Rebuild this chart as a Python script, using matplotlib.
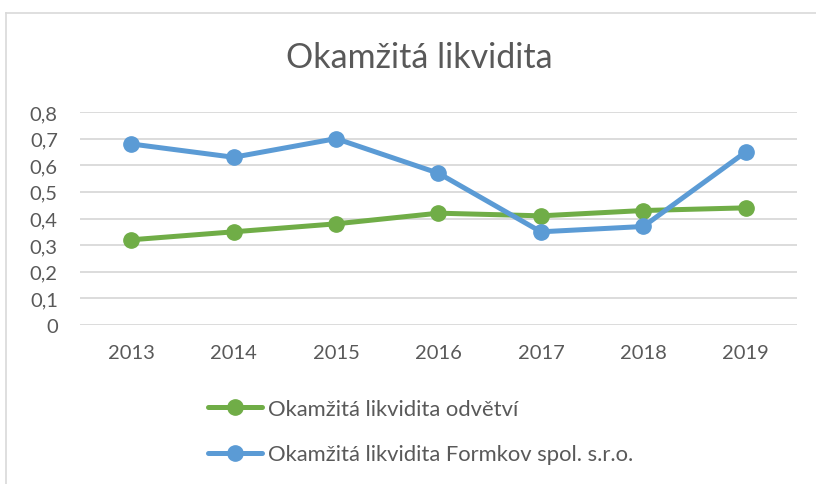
import matplotlib
matplotlib.use("Agg")
from matplotlib import pyplot as plt
from matplotlib.lines import Line2D
from matplotlib.ticker import FuncFormatter

years = ["2013", "2014", "2015", "2016", "2017", "2018", "2019"]
odvetvi = [0.32, 0.35, 0.38, 0.42, 0.41, 0.43, 0.44]
formkov = [0.68, 0.63, 0.70, 0.57, 0.35, 0.37, 0.65]
y_ticks = [0, 0.1, 0.2, 0.3, 0.4, 0.5, 0.6, 0.7, 0.8]

plt.rcParams['font.family'] = ['Lato', 'DejaVu Sans']
text_col = "#595959"
green = "#70AD47"
blue = "#5B9BD5"

fig = plt.figure(figsize=(8.16, 4.85), dpi=100)
ax = fig.add_axes([80/816, 1-326/485, (797-80)/816, (326-113)/485])

x = list(range(len(years)))
ax.plot(x, odvetvi, color=green, lw=3.6, marker='o', ms=11, label="Okamžitá likvidita odvětví",
        solid_capstyle='round', zorder=3)
ax.plot(x, formkov, color=blue, lw=3.6, marker='o', ms=11, label="Okamžitá likvidita Formkov spol. s.r.o.",
        solid_capstyle='round', zorder=4)

ax.set_xlim(-0.5, len(years) - 0.5)
ax.set_ylim(0, 0.8)
ax.set_xticks(x)
ax.set_xticklabels(years)
ax.set_yticks(y_ticks)
ax.yaxis.set_major_formatter(FuncFormatter(lambda v, p: "0" if v == 0 else f"{v:.1f}".replace(".", ",")))
ax.grid(axis='y', color="#D9D9D9", lw=1.3, zorder=0)
for s in ax.spines.values():
    s.set_visible(False)
ax.tick_params(axis='both', length=0, labelsize=14.5, labelcolor=text_col)
ax.tick_params(axis='y', pad=16)
ax.tick_params(axis='x', pad=14)

fig.text(419/816, 1-58/485, "Okamžitá likvidita", ha='center', va='center',
         fontsize=24.5, color=text_col)

fig.legend(loc='upper left', bbox_to_anchor=(208/816, 1-400/485), frameon=False,
           fontsize=15.8, labelcolor=text_col, handlelength=2.45, handletextpad=0.3,
           labelspacing=1.15, borderpad=0, borderaxespad=0)

# chart border (only left and top edges visible)
bx, by = 6/816, 1-14/485
fig.add_artist(Line2D([bx, bx], [0, by], color="#D9D9D9", lw=1.2, transform=fig.transFigure))
fig.add_artist(Line2D([bx, 1], [by, by], color="#D9D9D9", lw=1.2, transform=fig.transFigure))

fig.savefig("out.png", dpi=100)
